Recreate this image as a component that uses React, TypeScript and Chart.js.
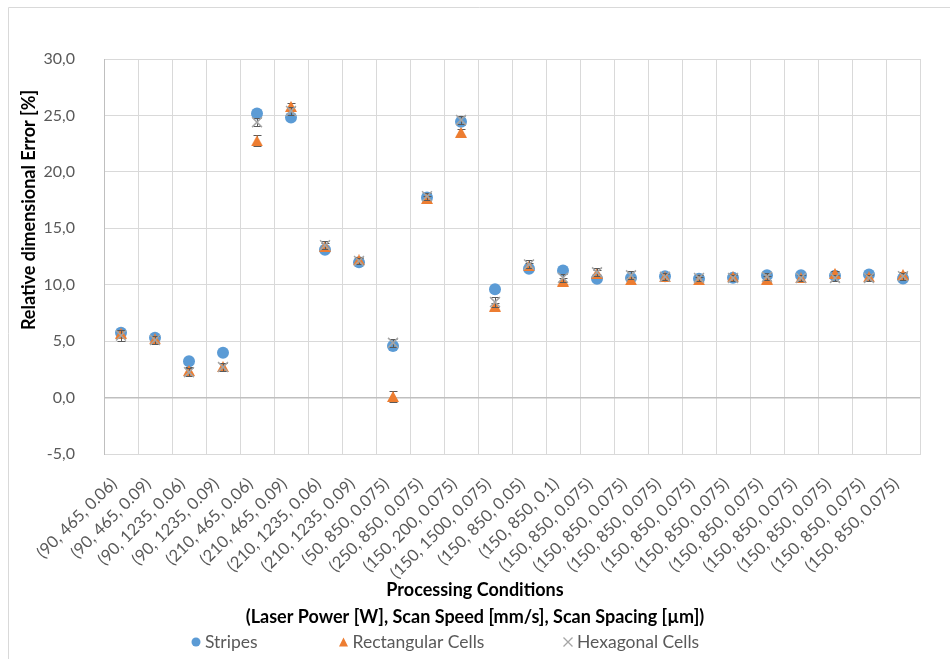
import React, { useEffect, useRef } from "react";
import { Chart, registerables } from "chart.js";

Chart.register(...registerables);

// Processing conditions: (laser power [W], scan speed [mm/s], scan spacing [µm])
const categories = [
  "(90, 465, 0.06)",
  "(90, 465, 0.09)",
  "(90, 1235, 0.06)",
  "(90, 1235, 0.09)",
  "(210, 465, 0.06)",
  "(210, 465, 0.09)",
  "(210, 1235, 0.06)",
  "(210, 1235, 0.09)",
  "(50, 850, 0.075)",
  "(250, 850, 0.075)",
  "(150, 200, 0.075)",
  "(150, 1500, 0.075)",
  "(150, 850, 0.05)",
  "(150, 850, 0.1)",
  "(150, 850, 0.075)",
  "(150, 850, 0.075)",
  "(150, 850, 0.075)",
  "(150, 850, 0.075)",
  "(150, 850, 0.075)",
  "(150, 850, 0.075)",
  "(150, 850, 0.075)",
  "(150, 850, 0.075)",
  "(150, 850, 0.075)",
  "(150, 850, 0.075)",
];

// Relative dimensional error [%] per scan strategy
const stripes = [
  5.75, 5.3, 3.22, 3.97, 25.18, 24.82, 13.1, 11.98, 4.56, 17.72, 24.43, 9.59,
  11.42, 11.27, 10.53, 10.59, 10.74, 10.53, 10.62, 10.83, 10.83, 10.8, 10.9, 10.55,
];
const rectangularCells = [
  5.7, 5.2, 2.4, 2.75, 22.75, 25.8, 13.43, 12.2, 0.1, 17.64, 23.5, 8.1,
  11.66, 10.32, 11.03, 10.44, 10.7, 10.45, 10.7, 10.5, 10.6, 11.0, 10.7, 10.9,
];
const hexagonalCells = [
  5.5, 5.1, 2.25, 2.7, 24.4, 25.4, 13.5, 12.1, 4.85, 17.84, 24.6, 8.46,
  11.8, 10.62, 11.1, 10.83, 10.7, 10.6, 10.6, 10.7, 10.6, 10.6, 10.6, 10.75,
];

// Standard deviations shown as error bars
const stripesErr = [
  0.2, 0.15, 0.2, 0.15, 0.3, 0.2, 0.2, 0.15, 0.2, 0.2, 0.3, 0.2,
  0.2, 0.2, 0.2, 0.15, 0.15, 0.15, 0.15, 0.15, 0.15, 0.15, 0.15, 0.15,
];
const rectangularErr = [
  0.3, 0.25, 0.3, 0.3, 0.5, 0.3, 0.3, 0.25, 0.5, 0.25, 0.3, 0.3,
  0.3, 0.3, 0.3, 0.25, 0.25, 0.25, 0.25, 0.25, 0.25, 0.25, 0.25, 0.25,
];
const hexagonalErr = [
  0.45, 0.35, 0.35, 0.35, 0.35, 0.35, 0.35, 0.3, 0.35, 0.3, 0.35, 0.45,
  0.35, 0.35, 0.35, 0.35, 0.3, 0.3, 0.3, 0.3, 0.3, 0.3, 0.3, 0.3,
];

const yMin = -5;
const yMax = 30;
const yStep = 5;

const yTitle = "Relative dimensional Error [%]";
const xTitleLines = [
  "Processing Conditions",
  "(Laser Power [W], Scan Speed [mm/s], Scan Spacing [µm])",
];
const seriesLabels = ["Stripes", "Rectangular Cells", "Hexagonal Cells"];

const BLUE = "#5B9BD5";
const ORANGE = "#ED7D31";
const GRAY = "#A5A5A5";
const GRID = "#D9D9D9";
const AXIS = "#BFBFBF";
const TEXT = "#595959";
const FONT = "Lato, 'Open Sans', sans-serif";

function makeTriangle(color: string, w: number, h: number) {
  const c = document.createElement("canvas");
  c.width = w;
  c.height = h;
  const g = c.getContext("2d")!;
  g.fillStyle = color;
  g.beginPath();
  g.moveTo(w / 2, 0);
  g.lineTo(w, h);
  g.lineTo(0, h);
  g.closePath();
  g.fill();
  return c;
}

// Vertical error bars with caps, drawn just beneath each series' markers
const errorBarsPlugin = {
  id: "errorBars",
  beforeDatasetDraw(chart: any, args: any) {
    const ds = chart.data.datasets[args.index];
    const errs: number[] | undefined = ds.errors;
    if (!errs) return;
    const y = chart.scales.y;
    const ctx = chart.ctx as CanvasRenderingContext2D;
    ctx.save();
    ctx.strokeStyle = TEXT;
    ctx.lineWidth = 1;
    args.meta.data.forEach((pt: any, i: number) => {
      const v = ds.data[i] as number;
      const e = errs[i];
      const x = Math.round(pt.x) + 0.5;
      const top = Math.round(y.getPixelForValue(v + e)) + 0.5;
      const bot = Math.round(y.getPixelForValue(v - e)) + 0.5;
      ctx.beginPath();
      ctx.moveTo(x, top);
      ctx.lineTo(x, bot);
      ctx.moveTo(x - 4, top);
      ctx.lineTo(x + 4, top);
      ctx.moveTo(x - 4, bot);
      ctx.lineTo(x + 4, bot);
      ctx.stroke();
    });
    ctx.restore();
  },
};

// Chart frame, axis titles and the legend row
const decorPlugin = {
  id: "decor",
  beforeDraw(chart: any) {
    const ctx = chart.ctx as CanvasRenderingContext2D;
    ctx.save();
    ctx.strokeStyle = GRID;
    ctx.lineWidth = 1;
    ctx.beginPath();
    ctx.moveTo(8.5, chart.height);
    ctx.lineTo(8.5, 7.5);
    ctx.lineTo(chart.width, 7.5);
    ctx.stroke();
    ctx.restore();
  },
  afterDraw(chart: any) {
    const ctx = chart.ctx as CanvasRenderingContext2D;
    ctx.save();
    ctx.fillStyle = "#000";
    ctx.textAlign = "center";
    ctx.textBaseline = "middle";
    ctx.font = `bold 18px ${FONT}`;

    ctx.save();
    ctx.translate(29, 210);
    ctx.rotate(-Math.PI / 2);
    ctx.fillText(yTitle, 0, 0);
    ctx.restore();

    const cx = chart.width / 2;
    ctx.fillText(xTitleLines[0], cx, 590);
    ctx.fillText(xTitleLines[1], cx, 617);

    // legend
    const ly = 642;
    const markerX = [196, 343.5, 568];
    ctx.font = `17.5px ${FONT}`;
    ctx.textAlign = "left";
    ctx.fillStyle = TEXT;
    seriesLabels.forEach((label, i) => {
      const mx = markerX[i];
      ctx.save();
      if (i === 0) {
        ctx.fillStyle = BLUE;
        ctx.beginPath();
        ctx.arc(mx, ly, 4.5, 0, Math.PI * 2);
        ctx.fill();
      } else if (i === 1) {
        ctx.fillStyle = ORANGE;
        ctx.beginPath();
        ctx.moveTo(mx, ly - 4.5);
        ctx.lineTo(mx + 4.5, ly + 4.5);
        ctx.lineTo(mx - 4.5, ly + 4.5);
        ctx.closePath();
        ctx.fill();
      } else {
        ctx.strokeStyle = GRAY;
        ctx.lineWidth = 1.3;
        ctx.beginPath();
        ctx.moveTo(mx - 4.5, ly - 4.5);
        ctx.lineTo(mx + 4.5, ly + 4.5);
        ctx.moveTo(mx + 4.5, ly - 4.5);
        ctx.lineTo(mx - 4.5, ly + 4.5);
        ctx.stroke();
      }
      ctx.restore();
      ctx.fillText(label, mx + 9, ly);
    });
    ctx.restore();
  },
};

export default function App() {
  const ref = useRef<HTMLCanvasElement>(null);

  useEffect(() => {
    const canvas = ref.current;
    if (!canvas) return;
    const chart = new Chart(canvas, {
      type: "line",
      data: {
        labels: categories,
        datasets: [
          {
            label: seriesLabels[0],
            data: stripes,
            errors: stripesErr,
            showLine: false,
            pointStyle: "circle",
            pointRadius: 6,
            pointBackgroundColor: BLUE,
            pointBorderWidth: 0,
            order: 3,
          } as any,
          {
            label: seriesLabels[1],
            data: rectangularCells,
            errors: rectangularErr,
            showLine: false,
            pointStyle: makeTriangle(ORANGE, 12, 11),
            pointRadius: 6,
            order: 2,
          } as any,
          {
            label: seriesLabels[2],
            data: hexagonalCells,
            errors: hexagonalErr,
            showLine: false,
            pointStyle: "crossRot",
            pointRadius: 7,
            pointBorderColor: GRAY,
            pointBackgroundColor: GRAY,
            pointBorderWidth: 1.5,
            order: 1,
          } as any,
        ],
      },
      options: {
        animation: false,
        responsive: false,
        events: [],
        layout: { padding: { top: 59, right: 30, bottom: 0, left: 0 } },
        plugins: {
          legend: { display: false },
          tooltip: { enabled: false },
          title: { display: false },
        },
        scales: {
          x: {
            type: "category",
            offset: true,
            grid: { offset: true, color: GRID, lineWidth: 1, drawTicks: false },
            border: { color: GRID },
            ticks: {
              autoSkip: false,
              maxRotation: 45,
              minRotation: 45,
              padding: 20,
              labelOffset: -7,
              color: TEXT,
              font: { family: FONT, size: 16.5 },
            },
            afterFit: (s: any) => {
              s.height = 205;
            },
          },
          y: {
            min: yMin,
            max: yMax,
            ticks: {
              stepSize: yStep,
              padding: 29,
              color: TEXT,
              font: { family: FONT, size: 16 },
              callback: (v: any) => Number(v).toFixed(1).replace(".", ","),
            },
            grid: {
              color: (c: any) => (c.tick && c.tick.value === 0 ? AXIS : GRID),
              lineWidth: (c: any) => (c.tick && c.tick.value === 0 ? 1.5 : 1),
              drawTicks: false,
            },
            border: { color: AXIS },
            afterFit: (s: any) => {
              s.width = 104;
            },
          },
        },
      } as any,
      plugins: [errorBarsPlugin, decorPlugin],
    });
    return () => chart.destroy();
  }, []);

  return (
    <div style={{ position: "absolute", left: 0, top: 0, width: 950, height: 659 }}>
      <canvas ref={ref} width={950} height={659} style={{ display: "block" }} />
    </div>
  );
}
